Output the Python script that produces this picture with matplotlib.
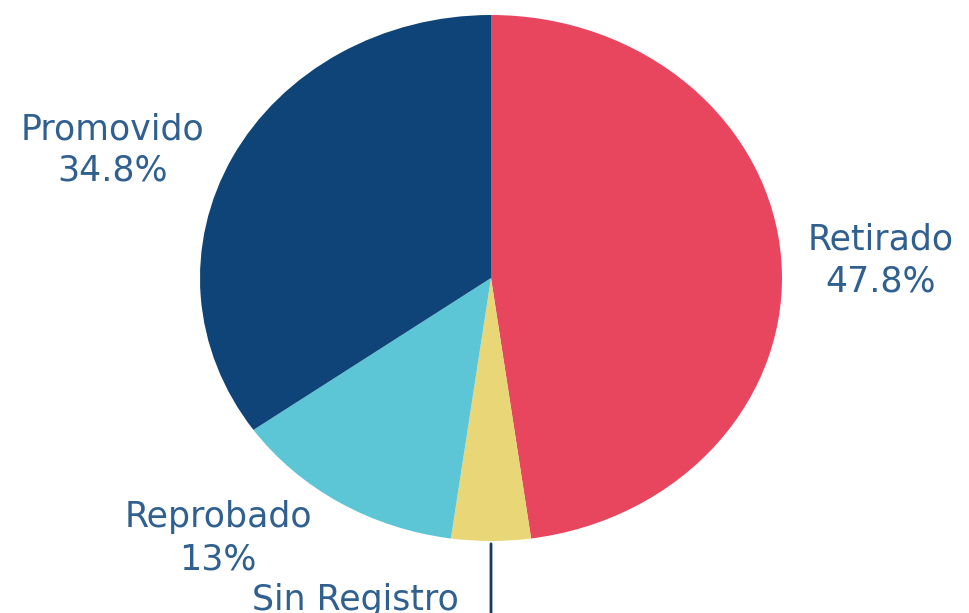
import matplotlib.pyplot as plt

# slice data (clockwise from the top)
labels = ['Retirado', 'Sin Registro', 'Reprobado', 'Promovido']
percents = [47.8, 4.4, 13.0, 34.8]
pct_text = ['47.8%', '4.4%', '13%', '34.8%']
colors = ['#E8455F', '#E9D677', '#5CC6D6', '#0E4477']

W, H = 969, 613
fig = plt.figure(figsize=(W / 100, H / 100), dpi=100)

# pie is an ellipse: centre (491, 278) px, radii 291 x 263 px
cx, cy, rx, ry = 491, 278, 291, 263
ax = fig.add_axes([(cx - rx) / W, (H - cy - ry) / H, 2 * rx / W, 2 * ry / H])
wedges, _ = ax.pie(percents, colors=colors, startangle=90, counterclock=False,
                   wedgeprops={'linewidth': 0})
ax.set_aspect('auto')
ax.set_xlim(-1, 1)
ax.set_ylim(-1, 1)
ax.axis('off')

# label centres in pixels (x, y of the first line)
label_pos = [(881, 240), (355, 600), (218, 517), (113, 129)]
txt_color = '#2F6090'
for name, pct, (px, py) in zip(labels, pct_text, label_pos):
    fig.text(px / W, 1 - py / H, name, ha='center', va='center', fontsize=25,
             color=txt_color, family='DejaVu Sans')
    fig.text(px / W, 1 - (py + 42) / H, pct, ha='center', va='center', fontsize=25,
             color=txt_color, family='DejaVu Sans')

# leader line for the small slice
ax.annotate('', xy=(0.0, -1.0), xytext=(0.0, -1.35),
            arrowprops={'arrowstyle': '-', 'color': '#1B3A5E', 'lw': 2}, annotation_clip=False)

fig.savefig('out.png', dpi=100)
